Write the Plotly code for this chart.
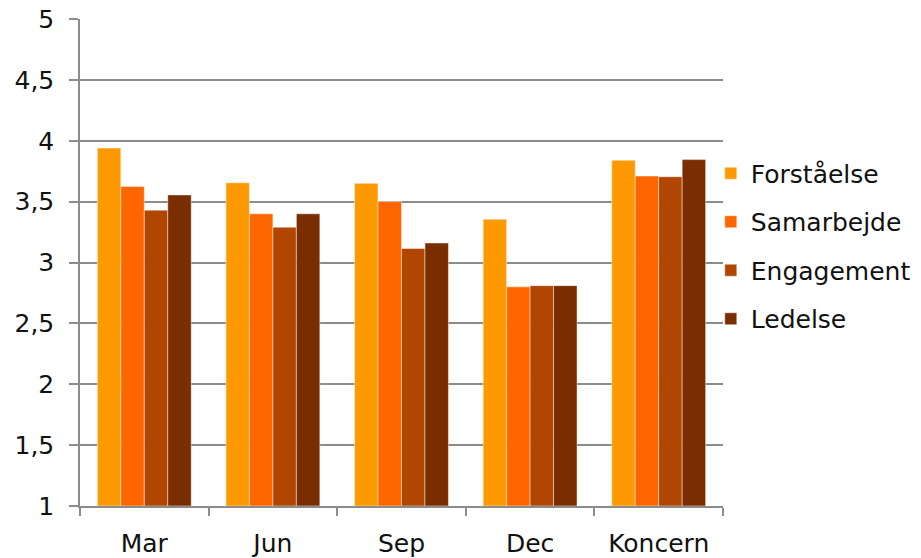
import plotly.graph_objects as go

# Survey scores per period and dimension
periods = ["Mar", "Jun", "Sep", "Dec", "Koncern"]
forstaaelse = [3.94, 3.655, 3.65, 3.355, 3.84]
samarbejde = [3.625, 3.40, 3.50, 2.80, 3.71]
engagement = [3.43, 3.29, 3.115, 2.81, 3.705]
ledelse = [3.555, 3.40, 3.16, 2.81, 3.845]

series = [
    ("Forståelse", forstaaelse, "#FF9900"),
    ("Samarbejde", samarbejde, "#FF6600"),
    ("Engagement", engagement, "#B04600"),
    ("Ledelse", ledelse, "#7A2E00"),
]

y_ticks = [1, 1.5, 2, 2.5, 3, 3.5, 4, 4.5, 5]
y_tick_text = ["1", "1,5", "2", "2,5", "3", "3,5", "4", "4,5", "5"]

fig = go.Figure()
for i, (name, vals, col) in enumerate(series):
    fig.add_trace(go.Bar(
        name=name, x=periods, y=[v - 1 for v in vals], base=1,
        marker=dict(color=col, line=dict(color="rgba(255,255,255,0.45)", width=1)),
        legendgroup=f"g{i}",
    ))

font_family = "DejaVu Sans, Verdana, sans-serif"
axis_gray = "#8c8c8c"
fig.update_layout(
    width=921, height=558,
    margin=dict(l=80, r=198, t=19, b=52, autoexpand=False),
    plot_bgcolor="white", paper_bgcolor="white",
    barmode="group", bargap=0.27, bargroupgap=0,
    font=dict(family=font_family, size=25, color="#111111"),
    showlegend=True,
    legend=dict(
        x=0.981, xanchor="left", y=0.73, yanchor="top",
        font=dict(size=25, family=font_family, color="#111111"),
        traceorder="grouped", tracegroupgap=13,
        itemwidth=30, bgcolor="rgba(0,0,0,0)",
    ),
    xaxis=dict(
        showline=True, linecolor=axis_gray, linewidth=1.5,
        ticks="outside", tickson="boundaries", ticklen=8,
        tickcolor=axis_gray, tickwidth=1.5,
        showgrid=False, tickfont=dict(size=25),
        ticklabelstandoff=14, automargin=False,
    ),
    yaxis=dict(
        range=[1, 5], tickvals=y_ticks, ticktext=y_tick_text,
        showline=True, linecolor=axis_gray, linewidth=1.5,
        ticks="outside", ticklen=9, tickcolor=axis_gray, tickwidth=1.5,
        showgrid=True, gridcolor=axis_gray, gridwidth=1.5,
        zeroline=False, tickfont=dict(size=25),
        ticklabelstandoff=10, automargin=False,
    ),
)

fig.write_html("out.html")
